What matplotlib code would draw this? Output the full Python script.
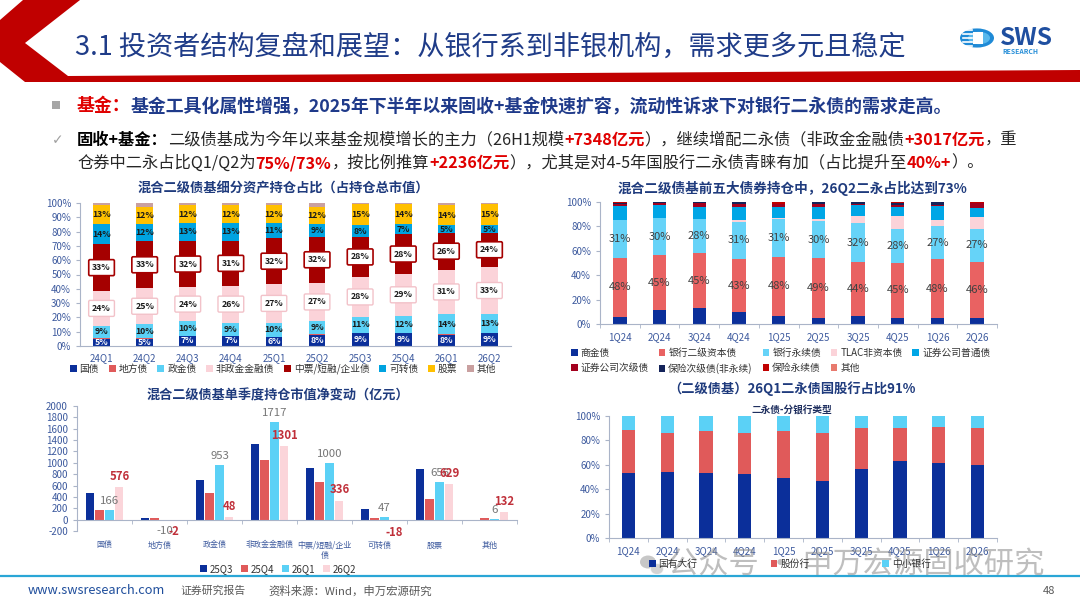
import matplotlib
matplotlib.use('Agg')
import matplotlib.pyplot as plt
import numpy as np
from matplotlib.patches import Polygon, Rectangle, Circle, Ellipse
from matplotlib.lines import Line2D

plt.rcParams['font.family'] = ['Noto Sans CJK SC', 'DejaVu Sans']
plt.rcParams['axes.unicode_minus'] = False

# ---------------- data ----------------
# Chart 1: 混合二级债基细分资产持仓占比 (%)
c1_cats = ['24Q1', '24Q2', '24Q3', '24Q4', '25Q1', '25Q2', '25Q3', '25Q4', '26Q1', '26Q2']
c1_names = ['国债', '地方债', '政金债', '非政金金融债', '中票/短融/企业债', '可转债', '股票', '其他']
c1_guozhai = [5, 5, 7, 7, 6, 8, 9, 9, 8, 9]
c1_difang = [0.3, 0.3, 0.3, 0.3, 0.3, 0.3, 0.3, 0.3, 0.3, 0.3]
c1_zhengjin = [9, 10, 10, 9, 10, 9, 11, 12, 14, 13]
c1_feizhengjin = [24, 25, 24, 26, 27, 27, 28, 29, 31, 33]
c1_zhongpiao = [33, 33, 32, 31, 32, 32, 28, 28, 26, 24]
c1_kezhuan = [14, 12, 13, 13, 11, 9, 8, 7, 5, 5]
c1_gupiao = [13, 12, 12, 12, 12, 12, 15, 14, 14, 15]
c1_qita = [1.7, 2.7, 1.7, 1.7, 1.7, 2.7, 0.7, 0.7, 1.7, 0.7]

# Chart 2: 前五大债券持仓结构 (%)
c2_cats = ['1Q24', '2Q24', '3Q24', '4Q24', '1Q25', '2Q25', '3Q25', '4Q25', '1Q26', '2Q26']
c2_names = ['商金债', '银行二级资本债', '银行永续债', 'TLAC非资本债', '证券公司普通债',
            '证券公司次级债', '保险次级债(非永续)', '保险永续债', '其他']
c2_shangjin = [6.0, 11.5, 12.9, 10.0, 6.8, 5.2, 6.6, 5.2, 5.0, 5.0]
c2_erji = [48, 45, 45, 43, 48, 49, 44, 45, 48, 46]
c2_yongxu = [31, 30, 28, 31, 31, 30, 32, 28, 27, 27]
c2_tlac = [0.0, 0.5, 0.0, 1.5, 1.0, 1.5, 6.0, 10.0, 5.0, 9.4]
c2_zq_putong = [12.0, 10.8, 10.0, 10.5, 9.4, 10.5, 9.0, 7.6, 12.0, 7.6]
c2_zq_ciji = [1.0, 1.2, 3.0, 2.0, 2.0, 2.5, 1.0, 2.0, 0.2, 4.5]
c2_bx_ciji = [1.5, 1.0, 1.0, 2.0, 0.5, 1.0, 1.2, 1.5, 2.5, 0.0]
c2_bx_yongxu = [0.5, 0.0, 0.1, 0.0, 1.3, 0.3, 0.2, 0.7, 0.3, 0.5]
c2_qita = [0, 0, 0, 0, 0, 0, 0, 0, 0, 0]

# Chart 3: 单季度持仓市值净变动 (亿元)
c3_cats = ['国债', '地方债', '政金债', '非政金金融债', '中票/短融/企业\n债', '可转债', '股票', '其他']
c3_quarters = ['25Q3', '25Q4', '26Q1', '26Q2']
c3_25q3 = [462, 29, 694, 1329, 912, 194, 888, -24]
c3_25q4 = [176, 24, 470, 1047, 659, 35, 370, 24]
c3_26q1 = [166, -10, 953, 1717, 1000, 47, 656, 6]
c3_26q2 = [576, -2, 48, 1301, 336, -18, 629, 132]

# Chart 4: 二永债-分银行类型 (%)
c4_cats = ['1Q24', '2Q24', '3Q24', '4Q24', '1Q25', '2Q25', '3Q25', '4Q25', '1Q26', '2Q26']
c4_names = ['国有大行', '股份行', '中小银行']
c4_guoyou = [53.5, 54.3, 53.5, 52.2, 49.5, 46.7, 56.3, 63.3, 61.7, 59.8]
c4_gufen = [35.1, 32.1, 34.3, 34.2, 38.3, 39.7, 33.9, 27.2, 29.6, 30.7]
c4_zhongxiao = [11.4, 13.6, 12.2, 13.6, 12.2, 13.6, 9.8, 9.5, 8.7, 9.5]

# ---------------- figure ----------------
W, H = 1080, 608
fig = plt.figure(figsize=(W / 100, H / 100), dpi=100)
fig.patch.set_facecolor('white')
renderer = fig.canvas.get_renderer()


def fx(p):
    return p / W


def fy(p):
    return 1 - p / H


def ax_at(l, t, r, b):
    return fig.add_axes([fx(l), fy(b), (r - l) / W, (b - t) / H])


def text_w(txt, size, weight):
    t = fig.text(0, 0, txt, fontsize=size, fontweight=weight)
    w = t.get_window_extent(renderer).width
    t.remove()
    return w


def fit_runs(x0, x1, y, parts, size=None, alpha=1.0, base=10):
    if size is None:
        tot = sum(text_w(txt, base, w) for txt, c, w in parts)
        size = base * (x1 - x0) / tot
    cx = x0
    for txt, c, w in parts:
        t = fig.text(fx(cx), fy(y), txt, fontsize=size, fontweight=w, color=c,
                     ha='left', va='center', alpha=alpha)
        cx += t.get_window_extent(renderer).width
    return size


TICKC = '#3d5a9e'
SPINEC = '#aab4c8'
TITLEC = '#1f3b7d'

# ---------------- header ----------------
red = '#c00000'
hdr = [(23, 0), (80, 0), (25, 43), (68, 76), (1080, 70), (1080, 82), (25, 82), (0, 62), (0, 20)]
fig.patches.append(Polygon([(fx(a), fy(b)) for a, b in hdr], closed=True,
                           transform=fig.transFigure, facecolor=red, edgecolor='none'))

fit_runs(75, 905, 47, [('3.1 投资者结构复盘和展望：从银行系到非银机构，需求更多元且稳定', '#1f3c88', 'medium')])

# logo
fig.patches.append(Circle((fx(977), fy(38)), 17 / W, transform=fig.transFigure,
                          facecolor='#1f8ad6', edgecolor='none'))
fig.patches.append(Circle((fx(979), fy(38)), 11 / W, transform=fig.transFigure,
                          facecolor='#59b8ec', edgecolor='none'))
fig.patches.append(Rectangle((fx(973), fy(44)), 10 / W, 12 / H, transform=fig.transFigure,
                             facecolor='white', edgecolor='none'))
for yy in (30, 34, 38, 42, 46):
    fig.add_artist(Line2D([fx(963), fx(972)], [fy(yy), fy(yy)], color='white', lw=1.2,
                          transform=fig.transFigure))
fit_runs(1000, 1053, 38, [('SWS', '#1f4fa0', 'bold')])
fit_runs(1002, 1038, 52, [('RESEARCH', '#2a90d8', 'bold')])

# bullet text
fig.patches.append(Rectangle((fx(52), fy(109)), 8 / W, 8 / H, transform=fig.transFigure,
                             facecolor='#a6a6a6', edgecolor='none'))
fit_runs(77, 954, 106, [('基金：', '#e00000', 'bold'),
                        ('基金工具化属性增强，2025年下半年以来固收+基金快速扩容，流动性诉求下对银行二永债的需求走高。',
                         '#1f3a8a', 'bold')])
fig.text(fx(52), fy(140), '✓', fontsize=10, color='#a0a0a0', ha='left', va='center',
         family=['DejaVu Sans'])
BLK = '#262626'
RED = '#e00000'
s2 = fit_runs(77, 1016, 140, [('固收+基金：', '#000000', 'bold'),
                              ('二级债基成为今年以来基金规模增长的主力（26H1规模', BLK, 'normal'),
                              ('+7348亿元', RED, 'bold'),
                              ('），继续增配二永债（非政金金融债', BLK, 'normal'),
                              ('+3017亿元', RED, 'bold'),
                              ('，重', BLK, 'normal')])
fit_runs(77, 0, 163, [('仓券中二永占比Q1/Q2为', BLK, 'normal'),
                      ('75%/73%', RED, 'bold'),
                      ('，按比例推算', BLK, 'normal'),
                      ('+2236亿元', RED, 'bold'),
                      ('），尤其是对4-5年国股行二永债青睐有加（占比提升至', BLK, 'normal'),
                      ('40%+', RED, 'bold'),
                      ('）。', BLK, 'normal')], size=s2)


def style_axes(ax):
    for s in ('top', 'right'):
        ax.spines[s].set_visible(False)
    for s in ('left', 'bottom'):
        ax.spines[s].set_color(SPINEC)
        ax.spines[s].set_linewidth(0.8)
    ax.tick_params(axis='y', labelsize=7, labelcolor=TICKC, color=SPINEC, length=3, width=0.8)
    ax.tick_params(axis='x', labelsize=7, labelcolor=TICKC, color=SPINEC, width=0.8)
    ax.set_facecolor('none')


def pct_fmt(v, pos):
    return f'{v:.0f}%'


# ---------------- chart 1 ----------------
ax1 = ax_at(80, 203, 511, 346)
x1 = np.arange(len(c1_cats))
c1_series = [c1_guozhai, c1_difang, c1_zhengjin, c1_feizhengjin, c1_zhongpiao,
             c1_kezhuan, c1_gupiao, c1_qita]
c1_colors = ['#0b2f9a', '#e05a5a', '#5bd1f6', '#fbd3d9', '#a50000', '#00a3e0', '#ffc000', '#c9a0a0']
box_pink = dict(boxstyle='round,pad=0.4,rounding_size=0.15', fc='white', ec='#f2c2c9', lw=1.0)
box_red = dict(boxstyle='round,pad=0.4,rounding_size=0.15', fc='white', ec='#a50000', lw=1.2)
c1_lab = {0: dict(color='white'), 2: dict(color='#1a1a1a'), 3: dict(color='#1a1a1a', bbox=box_pink),
          4: dict(color='#1a1a1a', bbox=box_red), 5: dict(color='#1a1a1a'), 6: dict(color='#1a1a1a')}
bottom = np.zeros(len(c1_cats))
c1_handles = []
for i, (name, vals, col) in enumerate(zip(c1_names, c1_series, c1_colors)):
    v = np.array(vals, float)
    b = ax1.bar(x1, v, 0.39, bottom=bottom, color=col, label=name, zorder=2)
    c1_handles.append(b)
    if i in c1_lab:
        for xi, vi, bi in zip(x1, v, bottom):
            ax1.text(xi, bi + vi / 2, f'{vi:.0f}%', ha='center', va='center', fontsize=6.3,
                     fontweight='bold', zorder=4, **c1_lab[i])
    bottom += v
ax1.set_xlim(-0.5, 9.5)
ax1.set_ylim(0, 100)
ax1.set_yticks(np.arange(0, 101, 10))
ax1.yaxis.set_major_formatter(plt.FuncFormatter(pct_fmt))
ax1.set_xticks(x1)
ax1.set_xticklabels(c1_cats)
style_axes(ax1)
ax1.tick_params(axis='x', length=0, pad=5)
fit_runs(138, 430, 188, [('混合二级债基细分资产持仓占比（占持仓总市值）', TITLEC, 'bold')])
fig.legend(c1_handles, c1_names, loc='center', bbox_to_anchor=(fx(283), fy(369)), ncol=8,
           frameon=False, fontsize=7, handlelength=0.7, handleheight=0.7, handletextpad=0.3,
           columnspacing=1.0, borderpad=0, labelcolor='#333333')

# ---------------- chart 2 ----------------
ax2 = ax_at(600, 202, 997, 324)
x2 = np.arange(len(c2_cats))
c2_series = [c2_shangjin, c2_erji, c2_yongxu, c2_tlac, c2_zq_putong, c2_zq_ciji,
             c2_bx_ciji, c2_bx_yongxu, c2_qita]
c2_colors = ['#0b2f9a', '#e96262', '#66d3f8', '#fbd3d9', '#00a6e6', '#a3001e', '#14235a', '#c00000', '#e87a6e']
bottom = np.zeros(len(c2_cats))
c2_handles = []
for i, (name, vals, col) in enumerate(zip(c2_names, c2_series, c2_colors)):
    v = np.array(vals, float)
    b = ax2.bar(x2, v, 0.34, bottom=bottom, color=col, label=name, zorder=2)
    c2_handles.append(b)
    if i in (1, 2):
        for xi, vi, bi in zip(x2, v, bottom):
            ax2.text(xi, bi + vi / 2, f'{vi:.0f}%', ha='center', va='center', fontsize=8,
                     color='#404040', zorder=4)
    bottom += v
ax2.set_xlim(-0.5, 9.5)
ax2.set_ylim(0, 100)
ax2.set_yticks(np.arange(0, 101, 20))
ax2.yaxis.set_major_formatter(plt.FuncFormatter(pct_fmt))
ax2.set_xticks(x2)
ax2.set_xticklabels(c2_cats)
ax2.set_xticks(np.arange(-0.5, 10, 1), minor=True)
style_axes(ax2)
ax2.tick_params(axis='x', which='major', length=0, pad=6)
ax2.tick_params(axis='x', which='minor', length=3, color=SPINEC)
fit_runs(618, 967, 188, [('混合二级债基前五大债券持仓中，26Q2二永占比达到73%', TITLEC, 'bold')])
order = [0, 5, 1, 6, 2, 7, 3, 8, 4]
fig.legend([c2_handles[k] for k in order], [c2_names[k] for k in order], loc='upper left',
           bbox_to_anchor=(fx(566), fy(343)), ncol=5, frameon=False, fontsize=7,
           handlelength=0.7, handleheight=0.7, handletextpad=0.3, columnspacing=1.0,
           labelspacing=0.55, borderpad=0, labelcolor='#333333')

# ---------------- chart 3 ----------------
ax3 = ax_at(77, 406, 517, 531)
x3 = np.arange(len(c3_cats))
c3_series = [c3_25q3, c3_25q4, c3_26q1, c3_26q2]
c3_colors = ['#0b2f9a', '#e05a5a', '#5bd1f6', '#fbd5da']
step, bw = 0.18, 0.15
c3_handles = []
for j, (name, vals, col) in enumerate(zip(c3_quarters, c3_series, c3_colors)):
    xs = x3 + (j - 1.5) * step
    b = ax3.bar(xs, vals, bw, color=col, label=name, zorder=2)
    c3_handles.append(b)
    if j >= 2:
        lc = '#767676' if j == 2 else '#c0303a'
        lw = 'normal' if j == 2 else 'bold'
        for xi, vi in zip(xs, vals):
            if vi >= 0:
                ax3.annotate(f'{vi}', (xi, vi), xytext=(0, 3), textcoords='offset points',
                             ha='center', va='bottom', fontsize=8.2, color=lc, fontweight=lw)
            else:
                ax3.annotate(f'{vi}', (xi, vi), xytext=(0, -4), textcoords='offset points',
                             ha='center', va='top', fontsize=8.2, color=lc, fontweight=lw)
ax3.set_xlim(-0.5, 7.5)
ax3.set_ylim(-200, 2000)
ax3.set_yticks(np.arange(-200, 2001, 200))
ax3.set_xticks(x3)
ax3.set_xticklabels(c3_cats, linespacing=1.9)
ax3.set_xticks(np.arange(-0.5, 8, 1), minor=True)
style_axes(ax3)
ax3.spines['bottom'].set_position(('data', 0))
ax3.tick_params(axis='x', which='major', length=0, pad=15, labelsize=5.8)
ax3.tick_params(axis='x', which='minor', length=3, color=SPINEC)
fit_runs(147, 410, 395, [('混合二级债基单季度持仓市值净变动（亿元）', TITLEC, 'bold')])
fig.legend(c3_handles, c3_quarters, loc='center', bbox_to_anchor=(fx(278), fy(569)), ncol=4,
           frameon=False, fontsize=7, handlelength=0.7, handleheight=0.7, handletextpad=0.3,
           columnspacing=0.8, borderpad=0, labelcolor='#333333')

# ---------------- chart 4 ----------------
ax4 = ax_at(609, 416, 997, 538)
x4 = np.arange(len(c4_cats))
c4_series = [c4_guoyou, c4_gufen, c4_zhongxiao]
c4_colors = ['#0b2f9a', '#e05a5a', '#5bd1f6']
bottom = np.zeros(len(c4_cats))
c4_handles = []
for name, vals, col in zip(c4_names, c4_series, c4_colors):
    v = np.array(vals, float)
    b = ax4.bar(x4, v, 0.34, bottom=bottom, color=col, label=name, zorder=2)
    c4_handles.append(b)
    bottom += v
ax4.set_xlim(-0.5, 9.5)
ax4.set_ylim(0, 100)
ax4.set_yticks(np.arange(0, 101, 20))
ax4.yaxis.set_major_formatter(plt.FuncFormatter(pct_fmt))
ax4.set_xticks(x4)
ax4.set_xticklabels(c4_cats)
ax4.set_xticks(np.arange(-0.5, 10, 1), minor=True)
style_axes(ax4)
ax4.tick_params(axis='x', which='major', length=0, pad=6)
ax4.tick_params(axis='x', which='minor', length=3, color=SPINEC)
fit_runs(668, 915, 389, [('（二级债基）26Q1二永债国股行占比91%', TITLEC, 'bold')])
fit_runs(752, 833, 410, [('二永债-分银行类型', '#1f2f5f', 'bold')])
fig.legend(c4_handles, c4_names, loc='center', bbox_to_anchor=(fx(790), fy(564)), ncol=3,
           frameon=False, fontsize=7, handlelength=0.7, handleheight=0.7, handletextpad=0.3,
           columnspacing=7.5, borderpad=0, labelcolor='#333333')

# ---------------- watermark ----------------
fig.patches.append(Ellipse((fx(648), fy(562)), 16 / W, 13 / H, transform=fig.transFigure,
                           facecolor='#9a9a9a', edgecolor='none', alpha=0.55, zorder=5))
fig.patches.append(Ellipse((fx(657), fy(569)), 13 / W, 11 / H, transform=fig.transFigure,
                           facecolor='#b0b0b0', edgecolor='white', lw=0.8, alpha=0.55, zorder=5))
fit_runs(668, 1045, 565, [('公众号 · 申万宏源固收研究', '#8a8a8a', 'normal')], alpha=0.55)

# ---------------- footer ----------------
fig.add_artist(Line2D([0, 1], [fy(576), fy(576)], color='#2aa6d6', lw=1.6, transform=fig.transFigure))
fit_runs(28, 166, 591, [('www.swsresearch.com', '#1f4e9c', 'normal')])
fit_runs(180, 245, 591, [('证券研究报告', '#595959', 'normal')])
fit_runs(268, 432, 591, [('资料来源：Wind，申万宏源研究', '#595959', 'normal')])
fig.text(fx(1043), fy(591), '48', fontsize=8, color='#595959', ha='left', va='center')

fig.savefig('out.png', dpi=100, facecolor='white')
